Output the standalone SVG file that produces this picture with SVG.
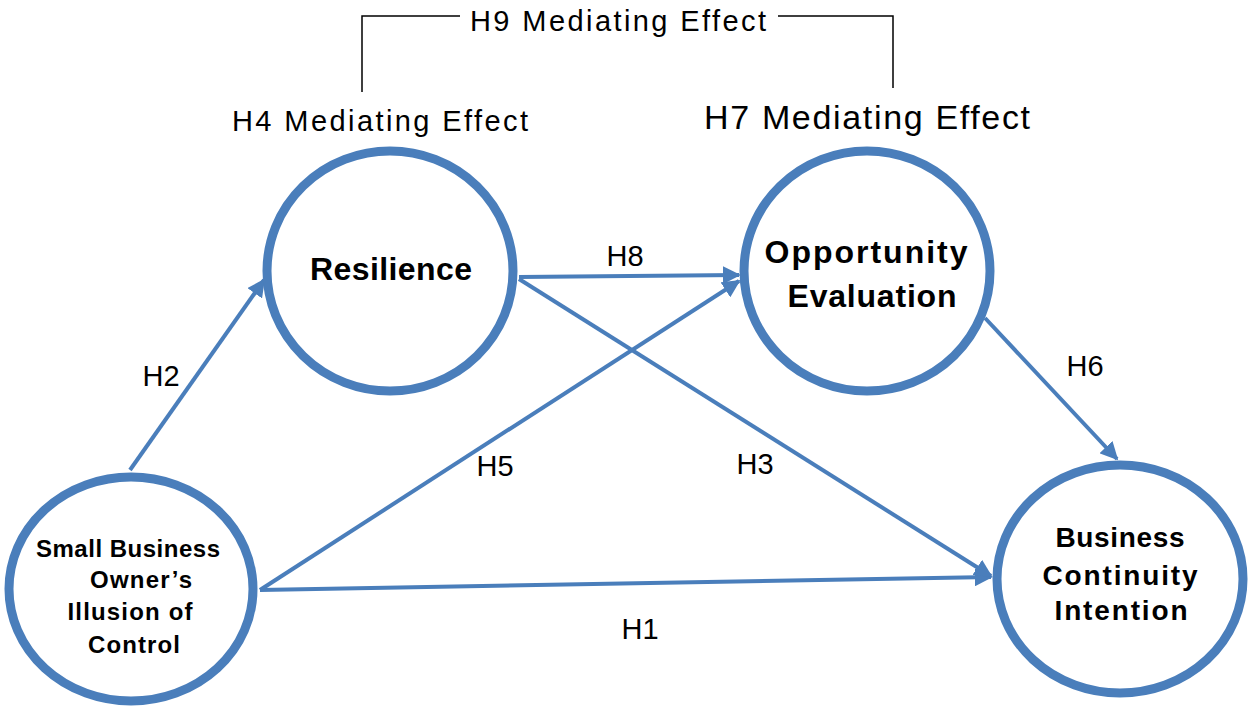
<svg xmlns="http://www.w3.org/2000/svg" width="1248" height="712" viewBox="0 0 1248 712">
<defs>
<style>
.node{fill:#fff;stroke:#4a7ebb;stroke-width:9}
.conn{stroke:#4a7ebb;stroke-width:4;fill:none;marker-end:url(#ah)}
.nt{font-family:"Liberation Sans",Arial,sans-serif;font-weight:bold;fill:#000;text-anchor:middle}
.lb{font-family:"Liberation Sans",Arial,sans-serif;fill:#000;text-anchor:middle;font-size:29px}
.br{stroke:#000;stroke-width:1.5;fill:none}
</style>
<marker id="ah" viewBox="0 0 10 10" refX="9" refY="5" markerWidth="4.5" markerHeight="4.5" orient="auto" markerUnits="strokeWidth">
<path d="M0,0 L10,5 L0,10 z" fill="#4a7ebb"/>
</marker>
</defs>
<rect width="1248" height="712" fill="#fff"/>
<g id="bracket">
<polyline class="br" points="362,92 362,16 460,16"/>
<polyline class="br" points="778,16 893,16 893,88"/>
<text class="lb" x="618" y="31" textLength="296">H9 Mediating  Effect</text>
</g>
<g id="connectors">
<line class="conn" x1="130" y1="470" x2="264" y2="280"/>
<line class="conn" x1="260" y1="590" x2="739" y2="281"/>
<line class="conn" x1="260" y1="590" x2="991" y2="577"/>
<line class="conn" x1="519" y1="277" x2="739" y2="275"/>
<line class="conn" x1="519" y1="279" x2="991" y2="576"/>
<line class="conn" x1="985" y1="318" x2="1117" y2="459"/>
</g>
<g id="labels">
<text class="lb" x="161" y="386">H2</text>
<text class="lb" x="495" y="476">H5</text>
<text class="lb" x="625" y="266">H8</text>
<text class="lb" x="755" y="474">H3</text>
<text class="lb" x="1085" y="376">H6</text>
<text class="lb" x="640" y="639">H1</text>
<text class="lb" x="380" y="131" textLength="296">H4 Mediating  Effect</text>
<text class="lb" x="867" y="129" textLength="326" style="font-size:34px">H7 Mediating  Effect</text>
</g>
<g id="resilience">
<ellipse class="node" cx="390" cy="271" rx="123" ry="120"/>
<text class="nt" x="391" y="280" font-size="32" textLength="162">Resilience</text>
</g>
<g id="opportunity">
<ellipse class="node" cx="867" cy="271" rx="123" ry="120"/>
<text class="nt" x="866" y="263" font-size="32" textLength="203">Opportunity</text>
<text class="nt" x="872" y="307" font-size="32" textLength="169">Evaluation</text>
</g>
<g id="smallbusiness">
<ellipse class="node" cx="131" cy="589" rx="122" ry="112"/>
<text class="nt" x="128" y="557" font-size="24" textLength="184">Small Business</text>
<text class="nt" x="141" y="588" font-size="24" textLength="102">Owner’s</text>
<text class="nt" x="130" y="620" font-size="24" textLength="125">Illusion of</text>
<text class="nt" x="134" y="653" font-size="24" textLength="92">Control</text>
</g>
<g id="business">
<ellipse class="node" cx="1120" cy="579" rx="123" ry="114"/>
<text class="nt" x="1120" y="547" font-size="28" textLength="129">Business</text>
<text class="nt" x="1120" y="585" font-size="28" textLength="155">Continuity</text>
<text class="nt" x="1121" y="620" font-size="28" textLength="133">Intention</text>
</g>
</svg>
